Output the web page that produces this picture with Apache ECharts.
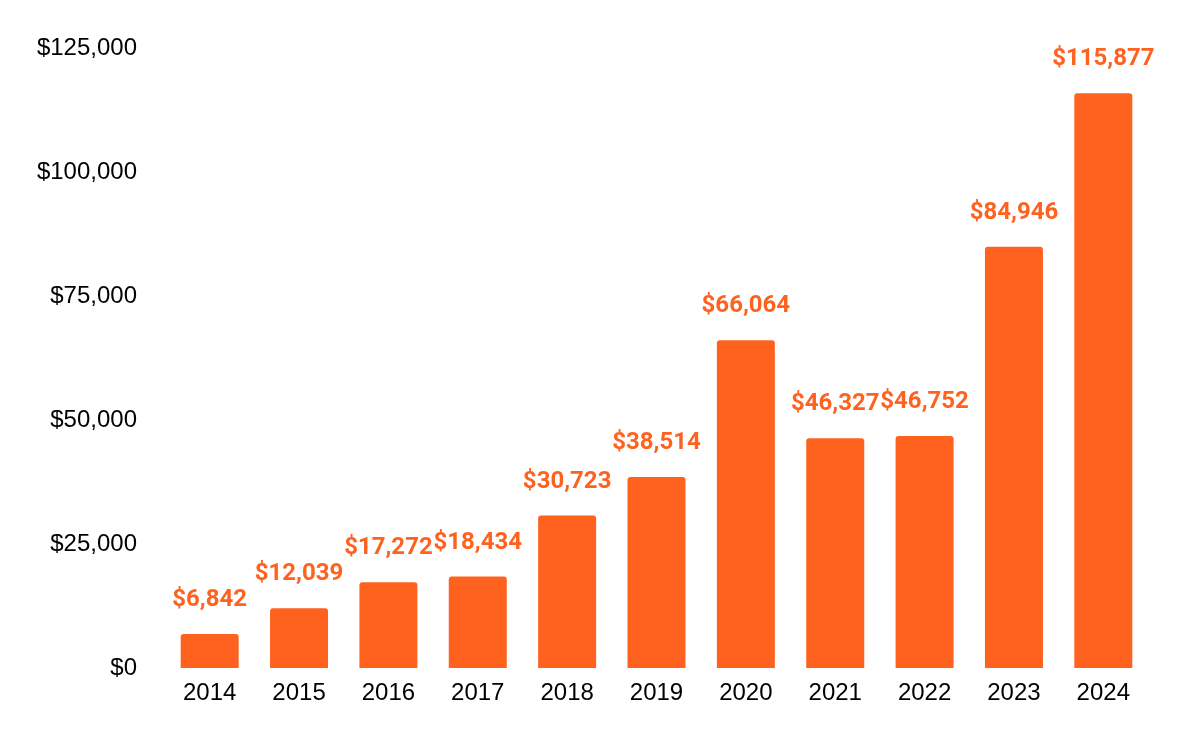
<!DOCTYPE html>
<html>
<head>
<meta charset="utf-8">
<script src="https://cdn.jsdelivr.net/npm/echarts@6/dist/echarts.min.js"></script>
<style>
  html, body { margin: 0; padding: 0; background: #fff; }
  #grafico { width: 1200px; height: 742px; }
</style>
</head>
<body>
<div id="grafico"></div>
<script>
// Datos del gráfico
const years = ['2014', '2015', '2016', '2017', '2018', '2019', '2020', '2021', '2022', '2023', '2024'];
const amounts = [6842, 12039, 17272, 18434, 30723, 38514, 66064, 46327, 46752, 84946, 115877];

const orange = '#FF621F';

const fmt = v => '$' + v.toLocaleString('en-US');

const chartDom = document.getElementById('grafico');
const myChart = echarts.init(chartDom);

const option = {
    animation: false,
    grid: { left: 165, right: 52, top: 48, bottom: 74 },
    xAxis: {
        type: 'category',
        data: years,
        axisLine: { show: false },
        axisTick: { show: false },
        axisLabel: {
            color: '#000',
            fontSize: 24,
            fontFamily: 'Liberation Sans',
            margin: 13
        }
    },
    yAxis: {
        type: 'value',
        min: 0,
        max: 125000,
        interval: 25000,
        splitLine: { show: false },
        axisLine: { show: false },
        axisTick: { show: false },
        axisLabel: {
            color: '#000',
            fontSize: 24,
            fontFamily: 'Liberation Sans',
            margin: 28,
            formatter: fmt
        }
    },
    series: [
        {
            type: 'bar',
            data: amounts,
            barWidth: 58,
            itemStyle: { color: orange, borderRadius: [3, 3, 0, 0] },
            label: {
                show: true,
                position: 'top',
                distance: 22,
                color: orange,
                fontSize: 24,
                fontWeight: 'bold',
                fontFamily: 'Roboto',
                formatter: p => fmt(p.value)
            }
        }
    ]
};

option && myChart.setOption(option);

window.addEventListener('resize', () => {
    myChart.resize();
});
</script>
</body>
</html>
